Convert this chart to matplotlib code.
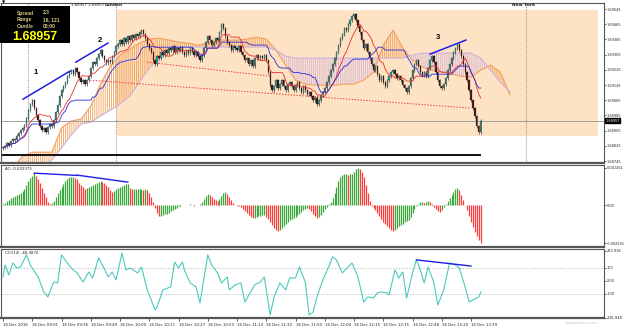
import numpy as np
import pandas as pd
import matplotlib
matplotlib.use("Agg")
import matplotlib.pyplot as plt
from matplotlib.patches import Rectangle

# ------------------------------------------------------------------ data
BASE = 1.68          # prices below are stored as points (1e-5) above BASE
PT = 1e-5

close_pts = [
    819, 824, 840, 829, 850, 861, 856, 877, 892, 908, 919, 934, 971, 1013, 1045,
    1066, 1024, 987, 961, 929, 908, 919, 898, 924, 940, 929, 961, 1003, 1040, 1087,
    1119, 1140, 1161, 1192, 1213, 1224, 1203, 1234, 1213, 1182, 1161, 1171, 1150, 1171, 1192,
    1234, 1266, 1255, 1287, 1308, 1329, 1297, 1276, 1261, 1276, 1266, 1297, 1318, 1350, 1361,
    1382, 1361, 1392, 1371, 1403, 1382, 1408, 1392, 1413, 1403, 1424, 1434, 1413, 1392, 1361,
    1340, 1318, 1276, 1255, 1297, 1287, 1318, 1303, 1329, 1313, 1340, 1329, 1350, 1318, 1340,
    1329, 1345, 1318, 1303, 1329, 1313, 1340, 1324, 1303, 1318, 1297, 1276, 1303, 1340, 1371,
    1403, 1382, 1355, 1371, 1392, 1382, 1424, 1466, 1445, 1403, 1371, 1355, 1329, 1350, 1340,
    1329, 1350, 1318, 1303, 1276, 1287, 1255, 1276, 1245, 1287, 1303, 1287, 1297, 1287, 1303,
    1276, 1213, 1145, 1119, 1140, 1171, 1129, 1150, 1171, 1140, 1119, 1150, 1161, 1140, 1119,
    1145, 1161, 1129, 1108, 1140, 1119, 1098, 1108, 1087, 1066, 1077, 1045, 1066, 1092, 1108,
    1129, 1161, 1192, 1224, 1255, 1287, 1318, 1355, 1392, 1413, 1445, 1434, 1466, 1487, 1508,
    1519, 1487, 1455, 1424, 1382, 1340, 1361, 1318, 1287, 1255, 1224, 1245, 1203, 1171, 1192,
    1161, 1140, 1171, 1192, 1213, 1224, 1203, 1182, 1192, 1171, 1145, 1129, 1108, 1140, 1182,
    1224, 1255, 1276, 1245, 1213, 1197, 1213, 1192, 1234, 1276, 1297, 1266, 1213, 1171, 1140,
    1129, 1150, 1182, 1224, 1255, 1287, 1318, 1340, 1361, 1329, 1297, 1255, 1213, 1171, 1119,
    1066, 1024, 982, 929, 898, 957,
]
first_open_pts = 814

# Ichimoku cloud spans (points), sampled every 5 bars
span_bars = list(range(0, 261, 5))
senkou_a_pts = [671, 708, 771, 792, 792, 792, 919, 956, 966, 1034, 1150, 1245, 1303, 1334,
                1366, 1387, 1392, 1382, 1371, 1366, 1355, 1366, 1382, 1382, 1382, 1387, 1397,
                1387, 1329, 1250, 1171, 1150, 1145, 1145, 1145, 1150, 1150, 1171, 1213, 1355,
                1434, 1340, 1276, 1240, 1224, 1213, 1203, 1192, 1187, 1224, 1250, 1213, 1092]
senkou_b_pts = [645, 656, 671, 687, 708, 750, 814, 882, 940, 950, 982, 1013, 1045, 1087,
                1161, 1234, 1287, 1329, 1345, 1345, 1345, 1345, 1345, 1345, 1345, 1345, 1345,
                1345, 1329, 1297, 1287, 1287, 1287, 1287, 1287, 1287, 1287, 1287, 1287, 1287,
                1287, 1287, 1303, 1313, 1313, 1313, 1313, 1313, 1313, 1287, 1224, 1161, 1108]

# Awesome Oscillator (1e-5 units), one per bar
ao_pts = [
    7, 13, 26, 33, 46, 53, 59, 66, 73, 79, 92, 106, 132, 158, 178, 191, 211, 191,
    172, 145, 112, 79, 53, 20, 7,
    13, 26, 53, 79, 99, 119, 139, 158, 172, 185, 185, 185, 178, 172,
    145, 132, 119, 106, 112, 119, 125, 132, 139, 145, 152, 158, 152, 145, 132, 119, 99, 86, 92, 106, 112,
    119, 125, 132, 139, 139, 112, 106, 106, 106, 106, 106, 106, 99, 106, 99, 79, 53, 20,
    -20, -53, -73, -73, -66, -59, -59, -53, -40, -33, -26, -20, -7, -3, 0, 3, 3, 3, 7, 3, -3, 3,
    3, 7, 20, 40, 59, 73, 66, 53, 40, 33, 26, 40, 59, 79, 86, 73, 53, 33, 13, 3,
    -3, -7, -13, -26, -40, -53, -66, -79, -86, -86, -79, -73, -73, -66, -66, -79,
    -92, -112, -132, -152, -165, -172, -165, -152, -139, -125, -112, -99, -92, -86, -79, -66,
    -59, -46, -33, -26, -20, -26, -40, -59, -73, -86, -79, -66, -46, -26, -13,
    7, 20, 46, 79, 119, 158, 185, 198, 205, 205, 198, 205, 205, 218, 238, 245, 238, 218, 185, 132,
    79, 26, -7, -20, -33, -53, -73, -92, -112, -125, -139, -152, -165,
    -172, -165, -152, -139, -132, -125, -112, -106, -99, -79, -53, -26, -7, 7, 20, 20, 13, 20, 26, 20,
    7, -13, -26, -40, -46, -33, -13, 7, 26, 46, 66, 86, 106, 112, 99, 66, 33, 3, -33, -73,
    -112, -145, -178, -205, -231, -250,
]

# CCI(14)
cci_bars = [0, 1, 3, 5, 7, 9, 12, 14, 15, 18, 21, 23, 26, 28, 30, 33, 35, 38, 41, 44,
            46, 49, 51, 54, 56, 58, 61, 63, 65, 69, 71, 74, 78, 79, 82, 86, 88, 90, 92, 93,
            96, 99, 101, 105, 107, 110, 112, 115, 116, 119, 122, 124, 127, 129, 132, 134, 137,
            139, 142, 145, 147, 150, 152, 155, 157, 159, 161, 164, 167, 169, 171, 174, 177,
            179, 182, 185, 187, 190, 192, 194, 197, 198, 201, 203, 205, 207, 210, 212, 214,
            216, 218, 221, 223, 226, 229, 232, 234, 237, 239, 241, 244, 245]
cci_vals = [31, 123, 46, 138, 100, 108, 200, 123, 100, 31, -85, -123, -8, -15, 200, 138, 100,
            62, -8, 69, 23, 177, 123, 31, 69, 8, 215, 85, 100, 62, 108, -69, -223, -200, -69,
            -46, 146, 100, 146, 85, -15, -46, -169, 200, 123, 62, -15, 31, -69, -31, -15, -162,
            -85, -31, -8, 31, -262, -123, -15, -69, 23, 23, 108, -8, -262, -240, -123, 8, 108,
            185, 162, 62, 108, 138, 31, -162, -123, -131, -92, -85, -92, -108, 85, 23, 69, -131,
            62, 162, 85, -15, 108, -15, -185, -69, 138, 123, 100, -46, -162, -146, -123, -85]

xtick_bars = [0, 15, 30, 45, 60, 75, 90, 105, 120, 135, 150, 165, 180, 195, 210, 225, 240]
xtick_labels = ["16 Dec 2016", "16 Dec 09:01", "16 Dec 09:36", "16 Dec 09:49", "16 Dec 10:00",
                "16 Dec 10:11", "16 Dec 10:27", "16 Dec 10:53", "16 Dec 11:14", "16 Dec 11:32",
                "16 Dec 11:50", "16 Dec 12:04", "16 Dec 12:15", "16 Dec 12:35", "16 Dec 12:48",
                "16 Dec 13:20", "16 Dec 13:39"]
price_ticks = [1.69545, 1.69465, 1.69385, 1.69305, 1.69225, 1.69145, 1.69065, 1.68985,
               1.68905, 1.68825, 1.68745]
price_tick_labels = ["1.69545", "1.69465", "1.69385", "1.69305", "1.69225", "1.69145",
                     "1.69065", "1.68985", "1.68905", "1.68825", "1.68745"]
ao_ticks = [0.002451, 0.0, -0.002501]
ao_tick_labels = ["0.002451", "0.00", "-0.002501"]
cci_ticks = [233.918, 100, 0, -100, -281.848]
cci_tick_labels = ["233.918", "100", "0.00", "-100", "-281.848"]

session_bars = [13, 58, 268]               # dotted separators
session_box = dict(start=58.5, end=305, top=1.69540, bottom=1.68877)
hline_price = 1.68777
trend_lines = [((10.3, 1.69071), (34.4, 1.69219)),
               ((37.4, 1.69266), (53.8, 1.69366)),
               ((219.0, 1.69308), (237.4, 1.69382))]
trend_labels = [("1", 17.0, 1.69210), ("2", 49.8, 1.69380), ("3", 223.0, 1.69395)]
red_dotted = [((44.6, 1.69171), (239.5, 1.69024)),
              ((73.8, 1.69266), (137.0, 1.69192))]
ao_lines = [((16, 0.00211), (38, 0.00196)), ((38, 0.00198), (64, 0.00152))]
cci_lines = [((212, 162), (240, 115))]

# ------------------------------------------------------------------ derived
close = BASE + np.array(close_pts) * PT
opens = np.concatenate([[BASE + first_open_pts * PT], close[:-1]])
idx = np.arange(len(close))
wick = 8 * PT
highs = np.maximum(opens, close) + wick
lows = np.minimum(opens, close) - wick
sh, sl = pd.Series(highs), pd.Series(lows)
tenkan = (sh.rolling(9, min_periods=1).max() + sl.rolling(9, min_periods=1).min()) / 2
kijun = (sh.rolling(26, min_periods=1).max() + sl.rolling(26, min_periods=1).min()) / 2
span_a = BASE + np.array(senkou_a_pts) * PT
span_b = BASE + np.array(senkou_b_pts) * PT
ao = np.array(ao_pts) * PT

# ------------------------------------------------------------------ figure
W, H = 625, 328
fig = plt.figure(figsize=(W / 100, H / 100), dpi=100)
fig.patch.set_facecolor("white")
plt.rcParams["hatch.linewidth"] = 0.6


def rect(x0, y0, x1, y1):
    return [x0 / W, 1 - y1 / H, (x1 - x0) / W, (y1 - y0) / H]


ax = fig.add_axes(rect(1, 3, 604, 163))
ax_ao = fig.add_axes(rect(1, 165, 604, 247))
ax_cci = fig.add_axes(rect(1, 249, 604, 318))
XL = (-1.03, 308.2)
for a in (ax, ax_ao, ax_cci):
    a.set_xlim(*XL)
    a.set_facecolor("white")
    for s in a.spines.values():
        s.set_color("#555555")
        s.set_linewidth(0.8)
    a.spines["bottom"].set_linewidth(1.6)
    a.yaxis.tick_right()
    a.tick_params(axis="y", length=1.5, width=0.5, pad=0.6, labelsize=2.5, colors="#222222")
    a.tick_params(axis="x", length=0, labelbottom=False)

ax.set_ylim(1.68735, 1.69577)
ax_ao.set_ylim(-0.002765, 0.002649)
ax_cci.set_ylim(-285, 246)

# session box and separators
ax.add_patch(Rectangle((session_box["start"], session_box["bottom"]),
                       session_box["end"] - session_box["start"],
                       session_box["top"] - session_box["bottom"],
                       facecolor="#fde2c3", edgecolor="none", zorder=0))
for b in session_bars:
    ax.axvline(b, color="#b89a74", lw=0.8, ls=(0, (1, 1)), zorder=1)

# cloud
ax.fill_between(span_bars, span_a, span_b, where=span_a >= span_b, interpolate=True,
                facecolor="none", edgecolor="#f3a055", hatch="|" * 8, lw=0, zorder=1)
ax.fill_between(span_bars, span_a, span_b, where=span_a < span_b, interpolate=True,
                facecolor="none", edgecolor="#d2b4dc", hatch="|" * 8, lw=0, zorder=1)
ax.plot(span_bars, span_a, color="#f0a060", lw=0.8, zorder=2)
ax.plot(span_bars, span_b, color="#cdb2dc", lw=0.8, zorder=2)

# bid line, horizontal line
ax.axhline(close[-1], color="#a0a0a0", lw=0.7, zorder=2)
ax.hlines(hline_price, XL[0], idx[-1], color="black", lw=1.3, zorder=2)

# red dotted lines
for (x0, y0), (x1, y1) in red_dotted:
    ax.plot([x0, x1], [y0, y1], color="#f04040", lw=0.7, ls=(0, (1.5, 1.5)), zorder=2)

# candles
up = close >= opens
ax.vlines(idx, lows, highs, color="#111111", lw=0.4, zorder=3)
body = np.where(np.abs(close - opens) < 2 * PT, 2 * PT, close - opens)
ax.bar(idx, body, bottom=opens, width=0.65,
       color=np.where(up, "#2f9a96", "#501818"), edgecolor="#111111", linewidth=0.15, zorder=4)

# tenkan / kijun
ax.plot(idx, tenkan, color="#e83030", lw=0.6, zorder=5)
ax.plot(idx, kijun, color="#2a2ae0", lw=0.6, zorder=5)

# trend lines and labels
for (x0, y0), (x1, y1) in trend_lines:
    ax.plot([x0, x1], [y0, y1], color="#1e1ee6", lw=1.1, zorder=6)
for t, x, y in trend_labels:
    ax.text(x, y, t, fontsize=5.5, fontweight="bold", family="Liberation Sans",
            ha="center", va="center", zorder=7)

ax.set_yticks(price_ticks)
ax.set_yticklabels(price_tick_labels)
ax.text(1.002, close[-1], "1.68957", transform=ax.get_yaxis_transform(), fontsize=2.5,
        color="white", va="center", ha="left",
        bbox=dict(boxstyle="square,pad=0.15", fc="black", ec="black"), zorder=10)

# AO
ao_idx = np.arange(len(ao))
ao_col = ["#3aa83a" if (i == 0 or ao[i] >= ao[i - 1]) else "#ff3c3c" for i in range(len(ao))]
ax_ao.vlines(ao_idx, 0, ao, colors=ao_col, lw=0.9)
for (x0, y0), (x1, y1) in ao_lines:
    ax_ao.plot([x0, x1], [y0, y1], color="#1e1ee6", lw=1.0)
ax_ao.set_yticks(ao_ticks)
ax_ao.set_yticklabels(ao_tick_labels)
ax_ao.text(0.006, 0.97, "AO -0.002375", transform=ax_ao.transAxes, fontsize=2.8,
           va="top", ha="left", color="#222222")

# CCI
ax_cci.axhline(100, color="#b0b0b0", lw=0.5, ls=(0, (2, 2)))
ax_cci.axhline(-100, color="#b0b0b0", lw=0.5, ls=(0, (2, 2)))
ax_cci.plot(cci_bars, cci_vals, color="#4cc9bb", lw=0.8)
for (x0, y0), (x1, y1) in cci_lines:
    ax_cci.plot([x0, x1], [y0, y1], color="#1e1ee6", lw=1.0)
ax_cci.set_yticks(cci_ticks)
ax_cci.set_yticklabels(cci_tick_labels)
ax_cci.text(0.006, 0.97, "CCI(14) -48.4870", transform=ax_cci.transAxes, fontsize=2.8,
            va="top", ha="left", color="#222222")
ax_cci.set_xticks(xtick_bars)
ax_cci.set_xticklabels(xtick_labels)
ax_cci.tick_params(axis="x", length=2, width=0.5, pad=1.5, labelsize=2.8, labelbottom=True,
                   colors="#222222")
for lab in ax_cci.get_xticklabels():
    lab.set_ha("left")

# header / info box
fig.add_artist(Rectangle((0, 1 - 43 / H), 70 / W, 37 / H, transform=fig.transFigure,
                         facecolor="black", edgecolor="none", zorder=20))
info = [("Spread", "2.3", 13), ("Range", "16, 121", 20), ("Candle", "03:00", 27)]
for k, v, y in info:
    fig.text(17 / W, 1 - y / H, k, fontsize=3.6, color="#d9c98a", fontweight="bold",
             family="Liberation Sans", va="center", zorder=21)
    fig.text(43 / W, 1 - y / H, v, fontsize=3.6, color="#d9c98a", fontweight="bold",
             family="Liberation Sans", va="center", zorder=21)
fig.text(12 / W, 1 - 37 / H, "1.68957", fontsize=9, color="#ffff00", fontweight="bold",
         family="Liberation Sans", va="center", zorder=21)
fig.text(2 / W, 1 - 3 / H, "▼", fontsize=3, color="black", va="center", zorder=21)
fig.text(71 / W, 1 - 5 / H, "1.68957 1.68957", fontsize=2.8, color="#222222", va="center")
fig.text(105 / W, 1 - 5 / H, "London", fontsize=3.2, fontweight="bold", color="#222222",
         va="center")
fig.text(512 / W, 1 - 5 / H, "New York", fontsize=3.2, fontweight="bold", color="#222222",
         va="center")
fig.text(565 / W, 1 - 323 / H, "www.pixick.com", fontsize=3, color="#c8c8c8", va="center")

fig.savefig("out.png", dpi=100)
